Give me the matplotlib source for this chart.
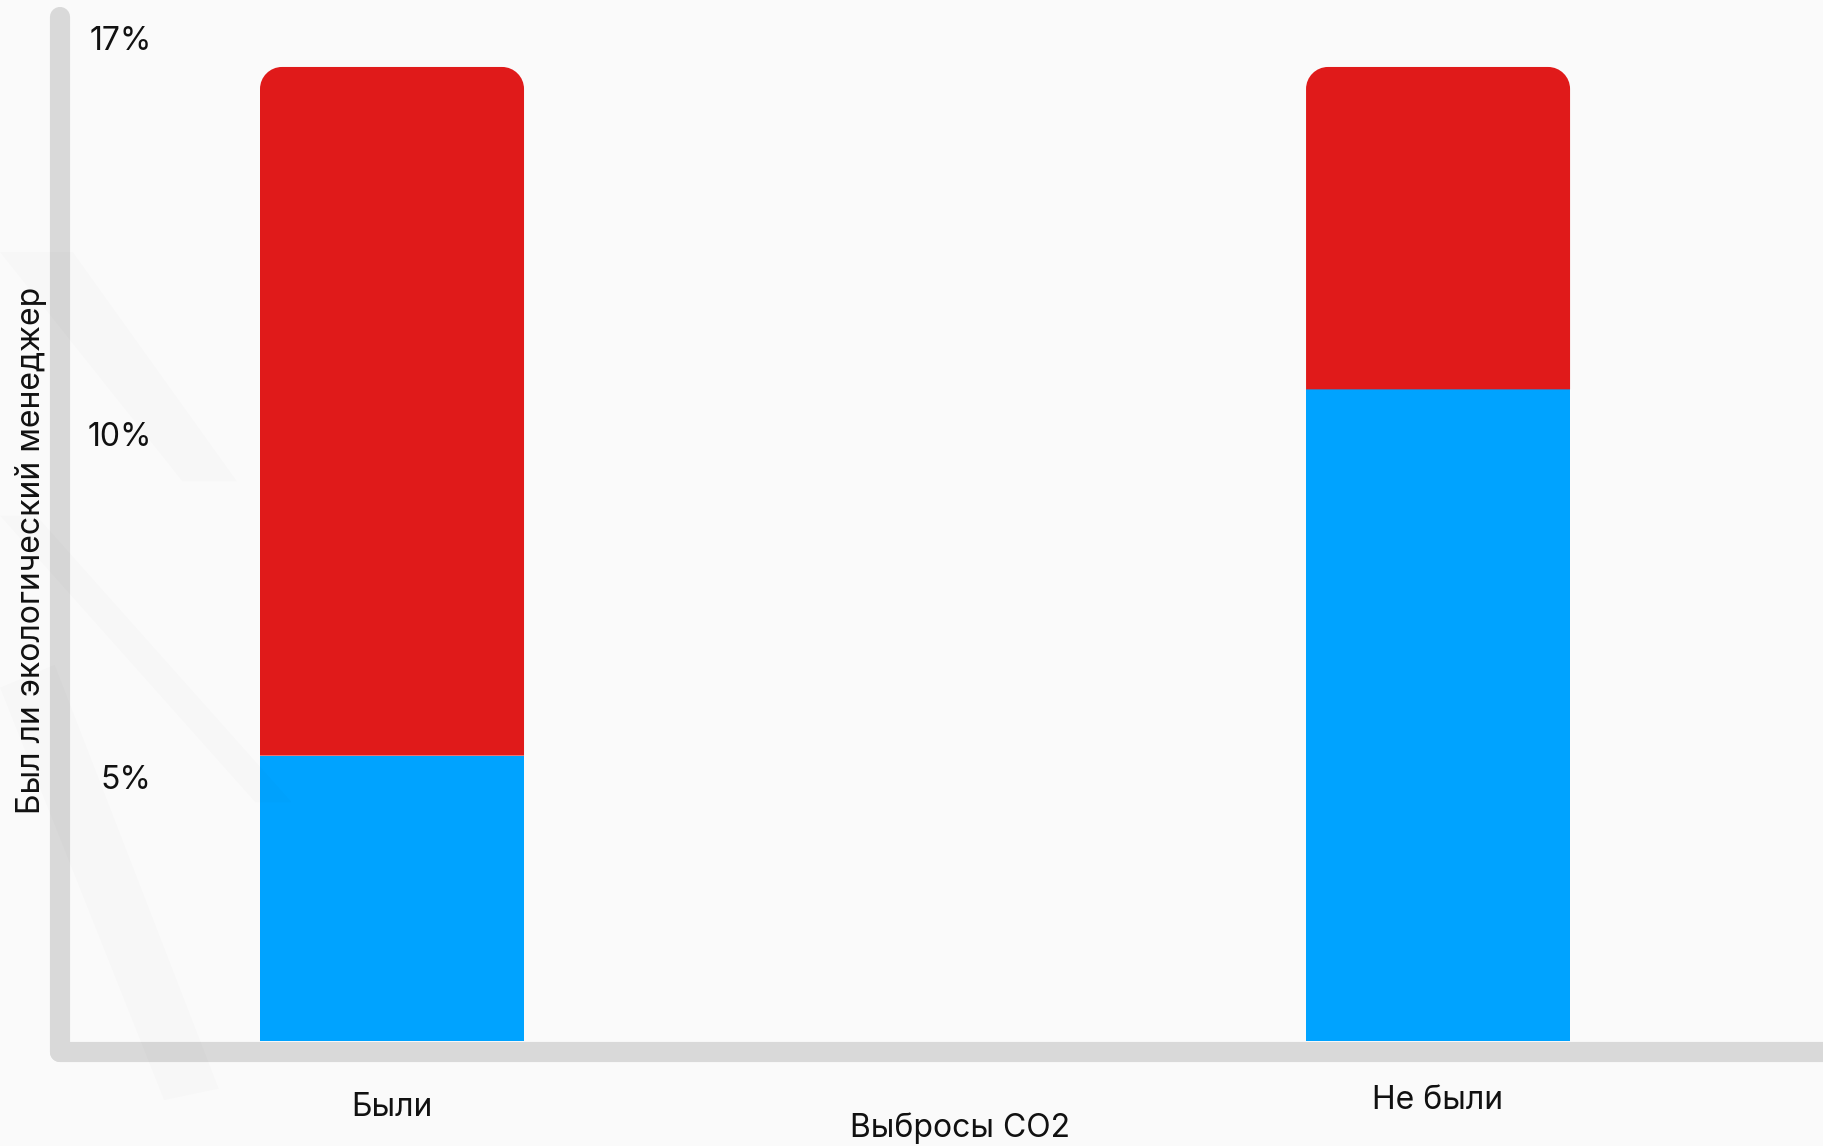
import matplotlib
matplotlib.use("Agg")
import matplotlib.pyplot as plt
from matplotlib.path import Path
from matplotlib.patches import PathPatch, Polygon
from matplotlib.transforms import ScaledTranslation
import numpy as np

plt.rcParams['font.family'] = ['Inter', 'DejaVu Sans']

# ---- data ----
categories = ['Были', 'Не были']
blue_share = [29.3, 66.9]          # lower (blue) segment, % of bar
red_share = [70.7, 33.1]           # upper (red) segment, % of bar
ytick_values = [27.1, 62.3, 103.0]
ytick_labels = ['5%', '10%', '17%']
xlabel = 'Выбросы CO2'
ylabel = 'Был ли экологический менеджер'

BLUE = '#00A3FF'
RED = '#E01A1A'
AXIS_GRAY = '#D9D9D9'
BG = '#FAFAFA'

W, H = 1823, 1146
fig = plt.figure(figsize=(W / 100, H / 100), dpi=100, facecolor=BG)

# very faint diagonal background streaks
for (pts, a) in [
    ([(0, 0.55), (0.02, 0.55), (0.16, 0.30), (0.14, 0.30)], 0.013),
    ([(0, 0.78), (0.04, 0.78), (0.13, 0.58), (0.10, 0.58)], 0.011),
    ([(0.0, 0.40), (0.03, 0.42), (0.12, 0.05), (0.09, 0.04)], 0.011),
]:
    fig.patches.append(Polygon(pts, closed=True, transform=fig.transFigure,
                               facecolor='#000000', alpha=a, edgecolor='none', zorder=0))

ax_left = 60 / W
ax_bottom = 1 - 1052 / H
ax_top = 1 - 17 / H
ax = fig.add_axes([ax_left, ax_bottom, 1 - ax_left, ax_top - ax_bottom])
ax.set_facecolor('none')

x = np.arange(len(categories))
bar_w = 0.2524
ax.bar(x, blue_share, width=bar_w, color=BLUE, zorder=2, linewidth=0)
red_bars = ax.bar(x, red_share, bottom=blue_share, width=bar_w, color=RED, zorder=2, linewidth=0)

ax.set_xlim(-0.3174, 1.368)
ax.set_ylim(-1.13, 105.13)

# rounded top corners for red bars
fig.canvas.draw()
inv = ax.transData.inverted()
p0 = inv.transform((0, 0))
p1 = inv.transform((1, 1))
dx, dy = abs(p1[0] - p0[0]), abs(p1[1] - p0[1])
r_px = 22
rx, ry = r_px * dx, r_px * dy
k = 0.5523
for rect in red_bars.patches:
    x0, y0 = rect.get_x(), rect.get_y()
    w, h = rect.get_width(), rect.get_height()
    x1, y1 = x0 + w, y0 + h
    verts = [
        (x0, y0), (x1, y0), (x1, y1 - ry),
        (x1, y1 - ry + k * ry), (x1 - rx + k * rx, y1), (x1 - rx, y1),
        (x0 + rx, y1),
        (x0 + rx - k * rx, y1), (x0, y1 - ry + k * ry), (x0, y1 - ry),
        (x0, y0),
    ]
    codes = [Path.MOVETO, Path.LINETO, Path.LINETO,
             Path.CURVE4, Path.CURVE4, Path.CURVE4,
             Path.LINETO,
             Path.CURVE4, Path.CURVE4, Path.CURVE4,
             Path.CLOSEPOLY]
    rect.set_visible(False)
    ax.add_patch(PathPatch(Path(verts, codes), facecolor=RED, edgecolor='none', zorder=2))

for s in ax.spines.values():
    s.set_visible(False)

# thick rounded axis lines
ax.plot([0, 0], [0, 1], transform=ax.transAxes, color=AXIS_GRAY, lw=14.5,
        solid_capstyle='round', zorder=3, clip_on=False)
ax.plot([0, 1.02], [0, 0], transform=ax.transAxes, color=AXIS_GRAY, lw=14.5,
        solid_capstyle='round', zorder=3, clip_on=False)

# ticks (y labels sit inside, right of the axis line)
ax.set_yticks(ytick_values, ytick_labels)
ax.tick_params(axis='y', length=0, pad=-66, labelsize=23, labelcolor='#111111')
ax.set_xticks(x, categories)
ax.tick_params(axis='x', length=0, pad=25, labelsize=23, labelcolor='#111111')
offsets = [-0.05, 0.02]
for lab, off in zip(ax.get_xticklabels(), offsets):
    lab.set_transform(lab.get_transform() + ScaledTranslation(0, off, fig.dpi_scale_trans))

ax.set_xlabel(xlabel, fontsize=23, color='#111111')
ax.xaxis.set_label_coords((960 - 60) / 1763, (1052 - 1128) / 1035)
ax.xaxis.label.set_va('center')
ax.set_ylabel(ylabel, fontsize=23, color='#111111')
ax.yaxis.set_label_coords((31 - 60) / 1763, (1052 - 550) / 1035)
ax.yaxis.label.set_va('center')

fig.savefig('out.png', dpi=100, facecolor=BG)
